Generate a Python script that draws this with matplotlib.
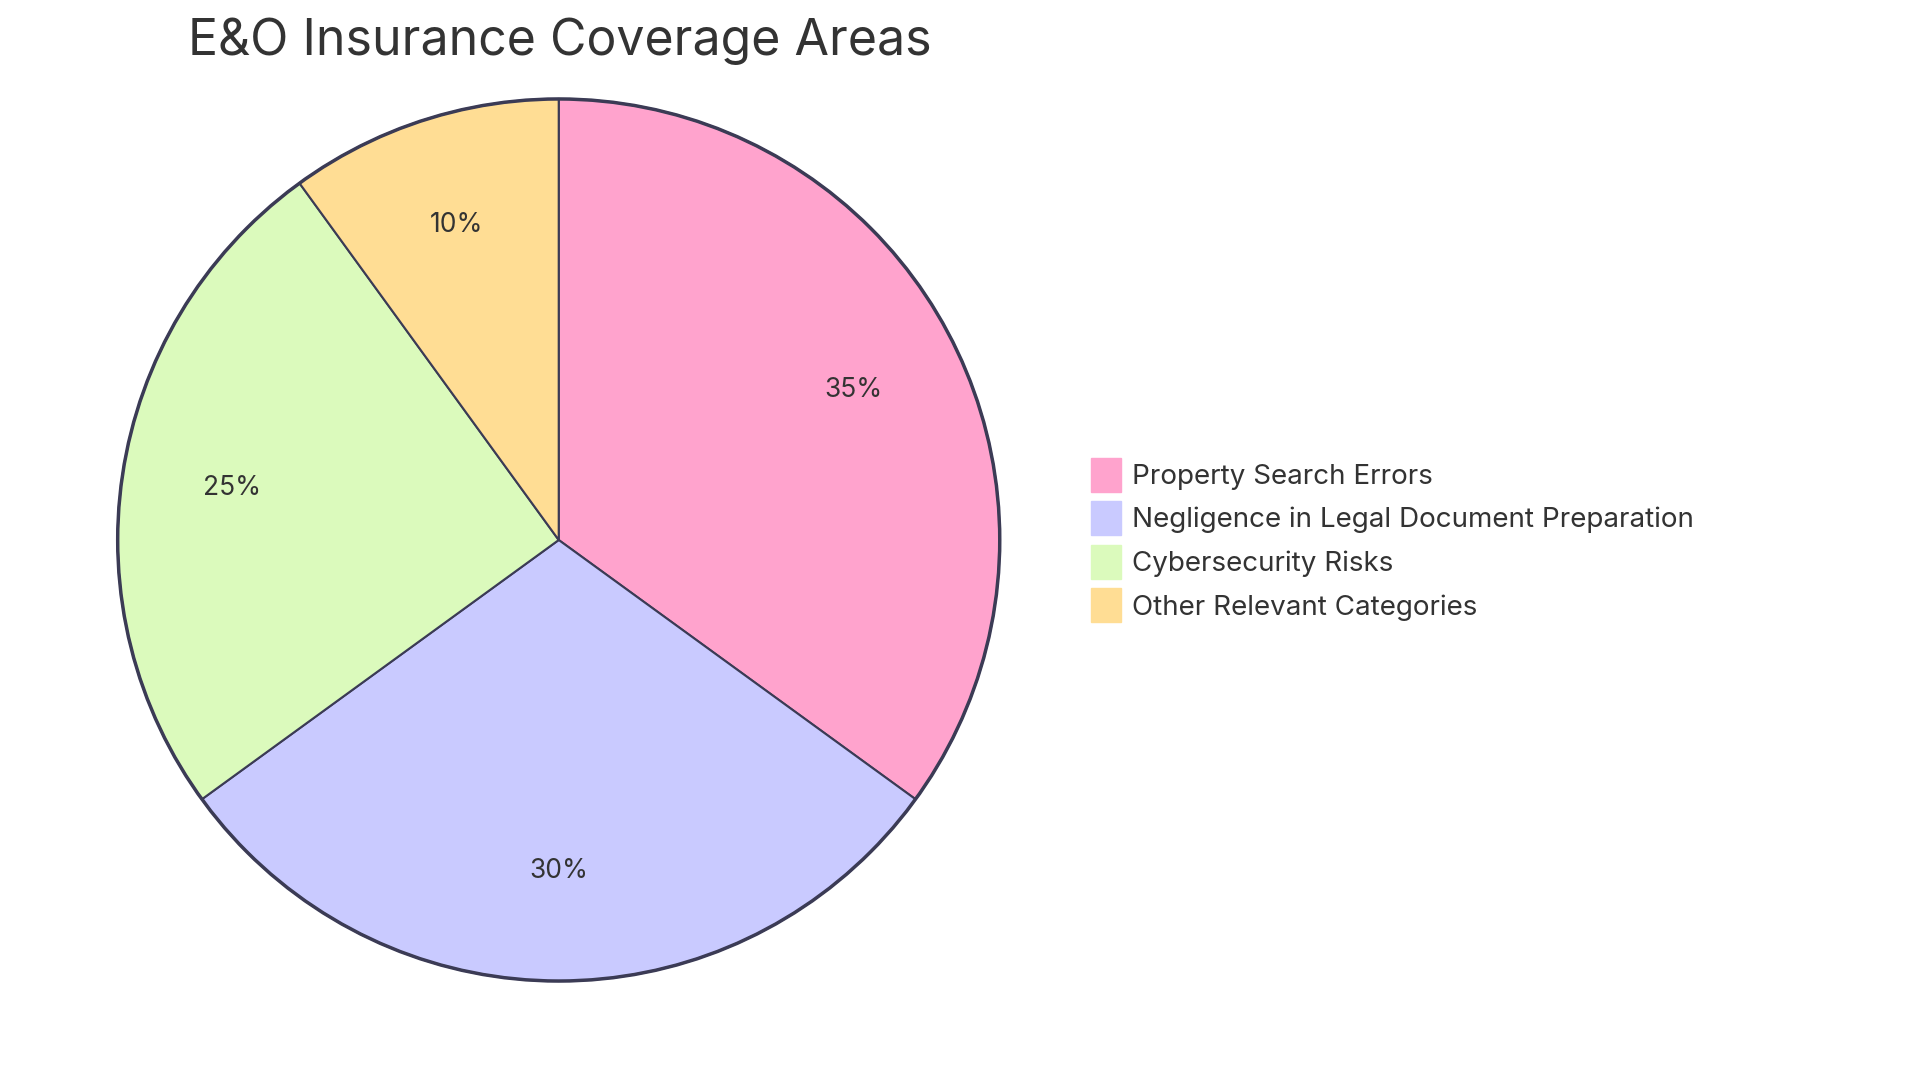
import matplotlib.pyplot as plt
from matplotlib.patches import Patch

plt.rcParams['font.family'] = ['Inter', 'DejaVu Sans']

labels = ['Property Search Errors', 'Negligence in Legal Document Preparation',
          'Cybersecurity Risks', 'Other Relevant Categories']
values = [35, 30, 25, 10]
colors = ['#FFA3CD', '#C9CAFF', '#DBFABC', '#FFDD94']
edge = '#3B3B55'
text_color = '#333333'

fig = plt.figure(figsize=(19.2, 10.8), dpi=100)
ax = fig.add_axes([0.059, 0.0875, 0.464, 0.825])
wedges, texts, autotexts = ax.pie(
    values, colors=colors, startangle=90, counterclock=False,
    autopct='%1.0f%%', pctdistance=0.75,
    wedgeprops=dict(edgecolor=edge, linewidth=1.5),
    textprops=dict(fontsize=19, color=text_color))
ax.add_patch(plt.Circle((0, 0), 1, fill=False, edgecolor=edge, linewidth=2.5))
ax.set_xlim(-1.01, 1.01)
ax.set_ylim(-1.01, 1.01)
ax.set_aspect('equal')

fig.text(0.098, 0.962, 'E&O Insurance Coverage Areas', fontsize=36,
         color=text_color, va='center', ha='left')

handles = [Patch(facecolor=c, edgecolor=c) for c in colors]
fig.legend(handles, labels, loc='center left', bbox_to_anchor=(0.555, 0.5),
           frameon=False, fontsize=20, handlelength=1.1, handleheight=1.5,
           handletextpad=0.4, labelspacing=0.35, labelcolor=text_color)

fig.savefig('out.png', dpi=100)
